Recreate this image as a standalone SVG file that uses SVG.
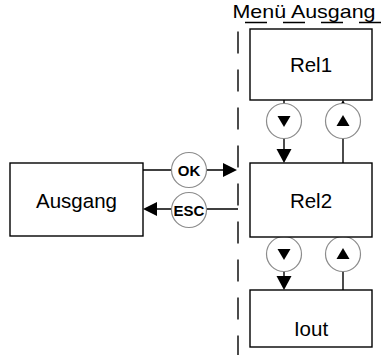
<svg xmlns="http://www.w3.org/2000/svg" width="381" height="355" viewBox="0 0 381 355">
  <style>
    .box { fill: #fff; stroke: #000; stroke-width: 1.4; }
    .lbl { font-family: "Liberation Sans", Arial, sans-serif; font-size: 20.5px; fill: #000; text-anchor: middle; }
    .key { fill: #fff; stroke: #8c8c8c; stroke-width: 1.2; }
    .keytxt { font-family: "Liberation Sans", Arial, sans-serif; font-size: 15px; font-weight: bold; fill: #000; text-anchor: middle; }
    .wire { fill: none; stroke: #000; stroke-width: 1.4; }
    .head { fill: #000; }
    .dash { fill: none; stroke: #000; stroke-width: 1.4; stroke-dasharray: 22 16; }
  </style>

  <rect width="381" height="355" fill="#fff"/>

  <!-- menu frame -->
  <g id="menu-frame">
    <text x="304" y="18" class="lbl" style="font-size:18.5px" textLength="143" lengthAdjust="spacingAndGlyphs">Menü Ausgang</text>
    <path class="dash" d="M381 22.5 H238 V355"/>
  </g>

  <!-- connectors -->
  <g id="connectors">
    <!-- OK / ESC -->
    <path class="wire" d="M143 170 H224"/>
    <polygon class="head" points="223,163 237,170 223,177"/>
    <path class="wire" d="M238 209 H156"/>
    <polygon class="head" points="157,202 143,209 157,216"/>
    <!-- Rel1 <-> Rel2 -->
    <path class="wire" d="M284 100 V150"/>
    <polygon class="head" points="276.5,149 291.5,149 284,163"/>
    <path class="wire" d="M343 163 V113"/>
    <polygon class="head" points="335.5,114 350.5,114 343,100"/>
    <!-- Rel2 <-> Iout -->
    <path class="wire" d="M284 237 V277"/>
    <polygon class="head" points="276.5,276 291.5,276 284,290"/>
    <path class="wire" d="M343 290 V250"/>
    <polygon class="head" points="335.5,251 350.5,251 343,237"/>
  </g>

  <!-- keys -->
  <g id="key-ok">
    <circle class="key" cx="189" cy="170" r="17.5"/>
    <text x="189" y="175.5" class="keytxt">OK</text>
  </g>
  <g id="key-esc">
    <circle class="key" cx="189" cy="210" r="17.5"/>
    <text x="189" y="215.5" class="keytxt">ESC</text>
  </g>
  <g id="key-down-1">
    <circle class="key" cx="284" cy="121" r="17.5"/>
    <polygon class="head" points="277.5,116 290.5,116 284,127"/>
  </g>
  <g id="key-up-1">
    <circle class="key" cx="343" cy="121" r="17.5"/>
    <polygon class="head" points="336.5,126 349.5,126 343,115"/>
  </g>
  <g id="key-down-2">
    <circle class="key" cx="284" cy="254" r="17.5"/>
    <polygon class="head" points="277.5,249 290.5,249 284,260"/>
  </g>
  <g id="key-up-2">
    <circle class="key" cx="343" cy="254" r="17.5"/>
    <polygon class="head" points="336.5,259 349.5,259 343,248"/>
  </g>

  <!-- menu items -->
  <g id="node-ausgang">
    <rect class="box" x="10" y="163" width="133" height="73"/>
    <text x="76.5" y="208" class="lbl">Ausgang</text>
  </g>
  <g id="node-rel1">
    <rect class="box" x="250" y="29" width="122" height="71"/>
    <text x="311" y="72" class="lbl">Rel1</text>
  </g>
  <g id="node-rel2">
    <rect class="box" x="250" y="163" width="122" height="74"/>
    <text x="311" y="208" class="lbl">Rel2</text>
  </g>
  <g id="node-iout">
    <rect class="box" x="250" y="290" width="122" height="57"/>
    <text x="311" y="336" class="lbl">Iout</text>
  </g>
</svg>
